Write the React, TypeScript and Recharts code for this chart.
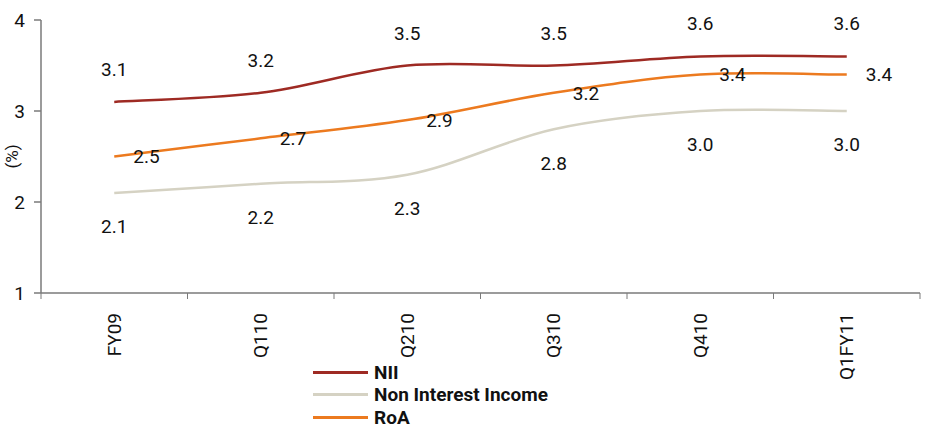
import { LineChart, Line, XAxis, YAxis, LabelList } from "recharts";

const periods = ["FY09", "Q110", "Q210", "Q310", "Q410", "Q1FY11"];
const nii = [3.1, 3.2, 3.5, 3.5, 3.6, 3.6];
const nonInterestIncome = [2.1, 2.2, 2.3, 2.8, 3.0, 3.0];
const roa = [2.5, 2.7, 2.9, 3.2, 3.4, 3.4];
const yTicks = [1, 2, 3, 4];

const seriesInfo = [
  { key: "nii", name: "NII", color: "#9e2a23" },
  { key: "nonInt", name: "Non Interest Income", color: "#d5d2c3" },
  { key: "roa", name: "RoA", color: "#ec7a1f" },
];

const data = periods.map((p, i) => ({
  period: p,
  nii: nii[i],
  nonInt: nonInterestIncome[i],
  roa: roa[i],
}));

const FONT = 'Roboto, "Noto Sans", sans-serif';
const AXIS = "#7a7a7a";

// catmull-rom style smoothing, close to the spreadsheet "smoothed line" look
const smoothCurve = (ctx: any) => {
  let pts: [number, number][] = [];
  return {
    areaStart() {},
    areaEnd() {},
    lineStart() {
      pts = [];
    },
    point(x: number, y: number) {
      pts.push([+x, +y]);
    },
    lineEnd() {
      if (!pts.length) return;
      ctx.moveTo(pts[0][0], pts[0][1]);
      for (let i = 0; i < pts.length - 1; i++) {
        const p0 = pts[Math.max(i - 1, 0)];
        const p1 = pts[i];
        const p2 = pts[i + 1];
        const p3 = pts[Math.min(i + 2, pts.length - 1)];
        ctx.bezierCurveTo(
          p1[0] + (p2[0] - p0[0]) / 6,
          p1[1] + (p2[1] - p0[1]) / 6,
          p2[0] - (p3[0] - p1[0]) / 6,
          p2[1] - (p3[1] - p1[1]) / 6,
          p2[0],
          p2[1]
        );
      }
    },
  };
};

const fmt = (v: any) => Number(v).toFixed(1);
const labelStyle = { fontSize: 19, fontFamily: FONT, fill: "#111" };

// tick marks sit between categories, labels run bottom-to-top
function PeriodTick(props: any) {
  const { x, y, payload, index } = props;
  const half = 146.5 / 2;
  return (
    <g>
      {index === 0 && <line x1={x - half} y1={y - 8} x2={x - half} y2={y - 2} stroke={AXIS} />}
      <line x1={x + half} y1={y - 8} x2={x + half} y2={y - 2} stroke={AXIS} />
      <text
        x={x}
        y={y + 12}
        transform={`rotate(-90 ${x} ${y + 12})`}
        textAnchor="end"
        dominantBaseline="central"
        fontSize={19}
        fontFamily={FONT}
        fill="#111"
      >
        {payload.value}
      </text>
    </g>
  );
}

export default function App() {
  return (
    <div style={{ position: "relative", width: 932, height: 427, background: "#fff" }}>
      <style>{"body{margin:0}"}</style>
      <LineChart
        width={932}
        height={427}
        data={data}
        margin={{ top: 20, right: 12, bottom: 0, left: 0 }}
      >
        <XAxis
          dataKey="period"
          scale="band"
          height={134}
          stroke={AXIS}
          strokeWidth={1.5}
          tickLine={false}
          tick={<PeriodTick />}
          interval={0}
        />
        <YAxis
          width={41}
          domain={[1, 4]}
          ticks={yTicks}
          stroke={AXIS}
          strokeWidth={1.5}
          tickSize={7}
          tickMargin={9}
          tick={labelStyle}
          label={{
            value: "(%)",
            angle: -90,
            position: "insideLeft",
            offset: 12,
            style: { fontSize: 17, fontFamily: FONT, fill: "#111", textAnchor: "middle" },
          }}
        />
        <Line
          dataKey="nonInt"
          name="Non Interest Income"
          type={smoothCurve as any}
          stroke="#d5d2c3"
          strokeWidth={2.5}
          dot={false}
          isAnimationActive={false}
        >
          <LabelList dataKey="nonInt" position="bottom" offset={27} formatter={fmt} style={labelStyle} />
        </Line>
        <Line
          dataKey="roa"
          name="RoA"
          type={smoothCurve as any}
          stroke="#ec7a1f"
          strokeWidth={2.5}
          dot={false}
          isAnimationActive={false}
        >
          <LabelList dataKey="roa" position="right" offset={19} formatter={fmt} style={labelStyle} />
        </Line>
        <Line
          dataKey="nii"
          name="NII"
          type={smoothCurve as any}
          stroke="#9e2a23"
          strokeWidth={2.5}
          dot={false}
          isAnimationActive={false}
        >
          <LabelList dataKey="nii" position="top" offset={26} formatter={fmt} style={labelStyle} />
        </Line>
      </LineChart>
      <div style={{ position: "absolute", left: 313, top: 361 }}>
        {seriesInfo.map((s) => (
          <div key={s.key} style={{ display: "flex", alignItems: "center", height: 22.5 }}>
            <div style={{ width: 55, height: 3, background: s.color, marginRight: 6 }} />
            <span style={{ fontFamily: FONT, fontWeight: 700, fontSize: 19, color: "#111" }}>
              {s.name}
            </span>
          </div>
        ))}
      </div>
    </div>
  );
}
